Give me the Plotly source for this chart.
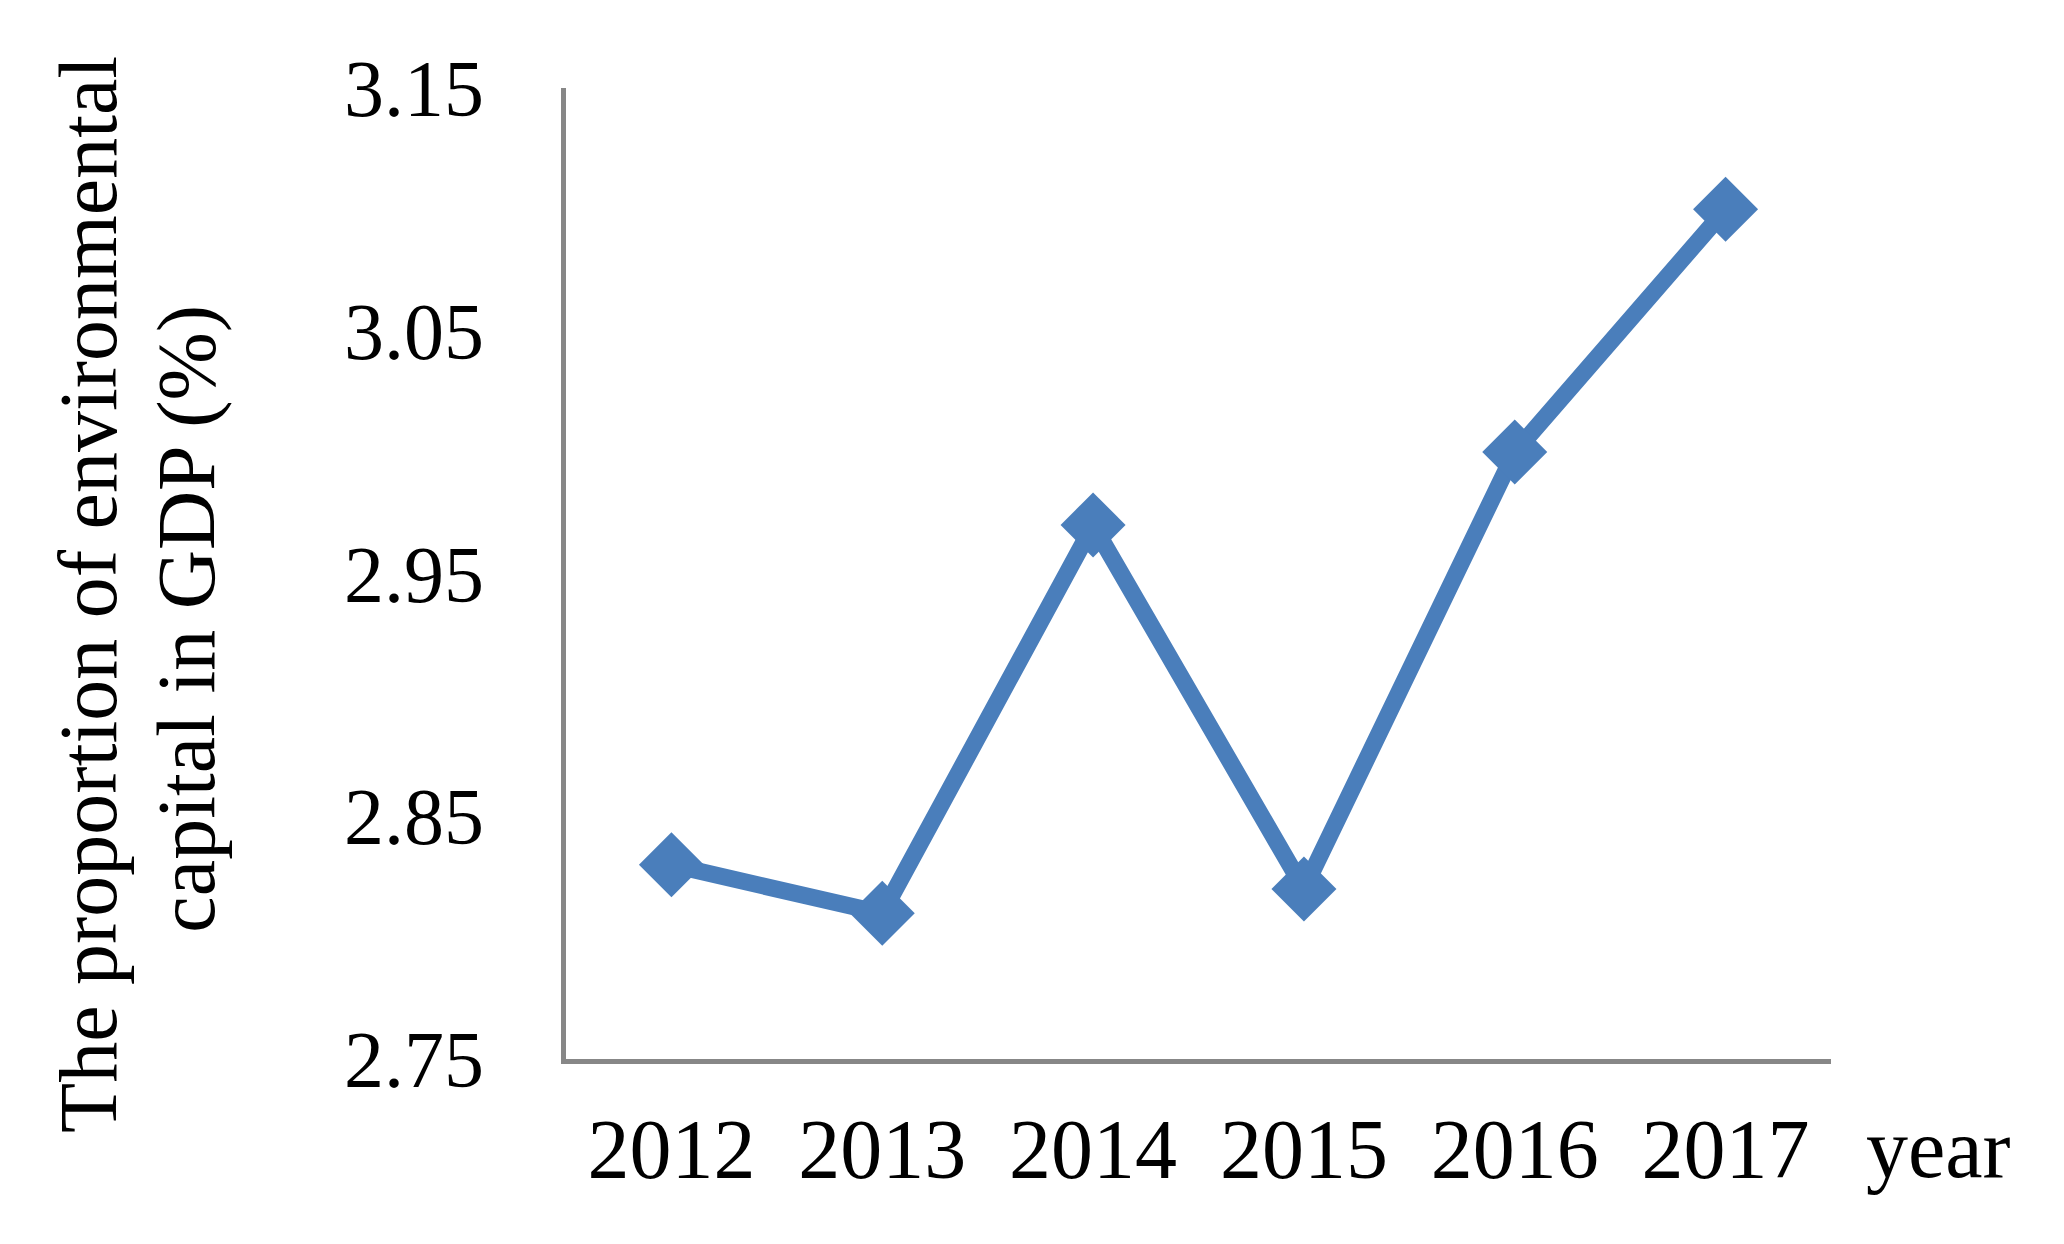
import plotly.graph_objs as go

years = ["2012", "2013", "2014", "2015", "2016", "2017"]
share = [2.83, 2.81, 2.97, 2.82, 3.00, 3.10]
y_ticks = [2.75, 2.85, 2.95, 3.05, 3.15]
y_title_lines = ["The proportion of environmental", "capital in GDP (%)"]

blue = "#4A7EBB"
axis_grey = "#878787"
font_family = "Liberation Serif, Times New Roman, serif"

fig = go.Figure(
    go.Scatter(
        x=years,
        y=share,
        mode="lines+markers",
        line=dict(color=blue, width=17),
        marker=dict(symbol="diamond", size=50, color=blue),
        showlegend=False,
    )
)

fig.update_layout(
    width=2064,
    height=1244,
    margin=dict(l=558, r=241, t=80, b=193),
    plot_bgcolor="white",
    paper_bgcolor="white",
    font=dict(family=font_family, color="black"),
    xaxis=dict(
        type="category",
        range=[-0.5, 5.5],
        showline=True,
        linecolor=axis_grey,
        linewidth=5,
        showgrid=False,
        zeroline=False,
        ticks="",
        tickfont=dict(size=84),
        ticklabelstandoff=13,
    ),
    yaxis=dict(
        range=[2.75, 3.15],
        tickvals=y_ticks,
        tickformat=".2f",
        showline=True,
        linecolor=axis_grey,
        linewidth=5,
        showgrid=False,
        zeroline=False,
        ticks="",
        tickfont=dict(size=80),
        ticklabelstandoff=61,
    ),
)

# y title as two rotated lines, placed separately to match the tighter spacing
for text, xp, yp in zip(y_title_lines, [-0.377, -0.300], [0.478, 0.453]):
    fig.add_annotation(
        text=text,
        xref="paper",
        yref="paper",
        x=xp,
        y=yp,
        xanchor="center",
        yanchor="middle",
        textangle=-90,
        showarrow=False,
        font=dict(size=82, family=font_family),
    )

fig.add_annotation(
    text="year",
    xref="paper",
    yref="paper",
    x=1.085,
    y=-0.092,
    xanchor="center",
    yanchor="middle",
    showarrow=False,
    font=dict(size=84, family=font_family),
)

fig.write_html("out.html")
